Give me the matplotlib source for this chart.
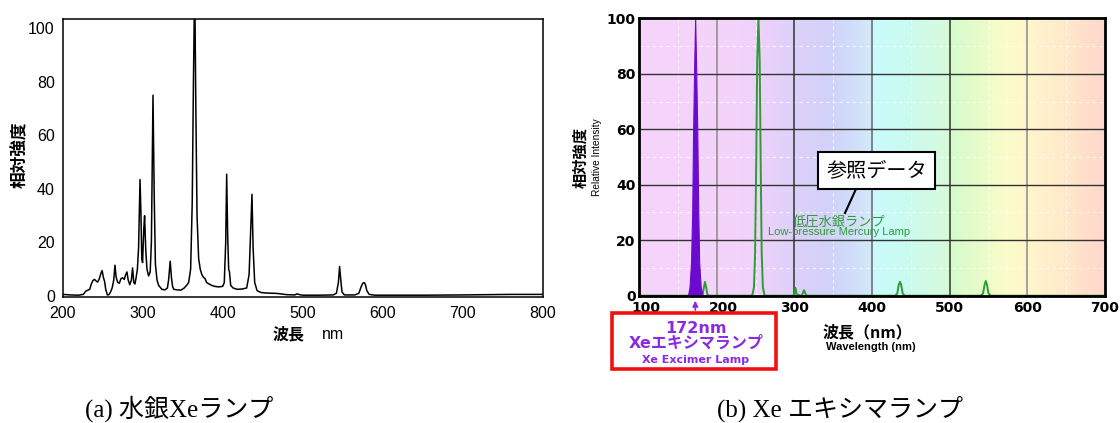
import numpy as np
import matplotlib
matplotlib.use("Agg")
import matplotlib.pyplot as plt
from matplotlib.patches import Rectangle
from matplotlib.lines import Line2D
from matplotlib.colors import to_rgb
from matplotlib.transforms import ScaledTranslation

plt.rcParams['font.family'] = ['Liberation Sans', 'Noto Sans CJK JP']

# ---------------- data: (a) mercury-Xe lamp spectrum ----------------
left_wl = [200, 210, 220, 226, 229, 232, 234, 236, 238, 240, 242, 244, 246, 248, 249.5, 251,
           252.5, 254, 256, 258, 260, 262, 264, 265.5, 267, 269, 271, 273, 275, 277, 279,
           280.5, 282, 284, 286, 287.5, 289, 290.5, 292, 293.5, 295, 296.8, 298, 299, 300,
           301.5, 302.5, 304, 305.5, 307.5, 309.5, 311, 313, 314.5, 316, 318, 320, 324, 328,
           331, 332.5, 334.5, 336, 337.5, 339, 343, 348, 352, 355, 357.5, 360, 362, 363.5,
           364.5, 365.5, 366.5, 368, 370, 372, 374, 376, 378, 380, 383, 386, 390, 395, 400,
           402, 403.8, 405, 406.3, 407.5, 408.5, 410, 413, 418, 424, 430, 433, 435, 436.6,
           438, 440, 443, 448, 455, 465, 470, 480, 490, 493, 496, 500, 520, 538, 542, 544.5,
           546, 547.5, 549, 552, 565, 570, 573, 575, 577, 578.5, 580, 583, 590, 650, 700,
           760, 800]
left_int = [0.6, 0.4, 0.3, 0.6, 1.8, 2.2, 2.5, 4.5, 5.8, 6.2, 5.6, 5.2, 6.5, 8.5, 9.5, 7,
            5.5, 2.5, 0.4, 0.5, 1.5, 3, 6, 11.5, 7, 5, 4.8, 6.5, 6.8, 6.2, 8,
            9, 6, 4.2, 6, 10.5, 5, 4.5, 7, 10, 18, 43.5, 30, 14, 12.5,
            25, 30, 17, 10, 7.5, 9, 20, 75, 38, 12, 6, 4, 2.5, 2.3,
            3, 6, 13, 7, 3.5, 2.5, 2.3, 2.2, 3, 4, 5, 10, 35, 80,
            104, 104, 70, 30, 14, 10, 8, 7, 6.5, 5, 4.5, 4, 3.6, 3.4, 3.6,
            5, 20, 45.5, 22, 10, 9, 4, 3, 2.5, 2.6, 3, 8, 25, 38,
            18, 5, 2, 1.3, 1.1, 1, 0.9, 0.5, 0.4, 0.8, 0.5, 0.3, 0.3, 0.4, 1, 5,
            11, 6, 1.5, 0.4, 0.4, 1, 3.5, 4.8, 5, 4, 2, 0.6, 0.3, 0.3, 0.4,
            0.6, 0.6]
left_xticks = [200, 300, 400, 500, 600, 700, 800]
left_yticks = [0, 20, 40, 60, 80, 100]

# ---------------- data: (b) Xe excimer lamp ----------------
xe_wl = [163, 165, 167, 168.5, 169.7, 171.2, 172.3, 173.4, 175, 176.3, 177.5, 179.5, 182]
xe_int = [0, 3, 12, 30, 60, 85, 100, 85, 60, 30, 12, 3, 0]

hg_wl = [100, 180, 182, 183.5, 185, 186.5, 188, 190, 244, 246, 248, 249.5, 251, 252.2, 253.8,
         255.4, 256.6, 258, 259.5, 261.5, 263, 298, 300, 301.5, 303, 308, 310, 312.5, 315,
         317, 430, 432.5, 434.5, 436, 437.5, 439.5, 442, 540, 543, 545, 546.5, 548, 550,
         553, 700]
hg_int = [0, 0, 0.5, 3, 5, 3, 0.5, 0, 0, 0.3, 3, 15, 50, 85, 100,
          85, 50, 15, 3, 0.3, 0, 0, 0.5, 2.8, 0.5, 0, 0.3, 2, 0.3,
          0, 0, 0.8, 4, 5, 4, 0.8, 0, 0, 0.8, 4, 5.3, 4, 0.8,
          0, 0]
right_xticks = [100, 200, 300, 400, 500, 600, 700]
right_yticks = [0, 20, 40, 60, 80, 100]

# background spectrum colour stops (style)
bg_stops = [(100, '#F6D4FB'), (230, '#F4D3FB'), (260, '#ECD2FA'), (300, '#DDD1FA'),
            (340, '#D3D1F9'), (372, '#D0DCFA'), (398, '#D4E9F9'), (402, '#C9FBFD'),
            (445, '#CBFBF0'), (490, '#D6FAE0'), (502, '#D5FBCC'), (540, '#E9FBCA'),
            (570, '#FBFCCB'), (610, '#FFF4CC'), (650, '#FFE9CB'), (700, '#FFD7CD')]

W, H = 1120, 423
fig = plt.figure(figsize=(W / 100, H / 100), dpi=100)


def fx(px):
    return px / W


def fy(py):
    return 1 - py / H


# ---------------- panel (a) ----------------
ax1 = fig.add_axes([fx(62.5), fy(296.7), (543 - 62.5) / W, (296.7 - 19) / H])
ax1.plot(left_wl, left_int, color='black', lw=1.1)
ax1.set_xlim(200, 800)
ax1.set_ylim(-0.26, 103.5)
ax1.set_xticks(left_xticks)
ax1.set_yticks(left_yticks)
ax1.tick_params(axis='both', length=0, labelsize=11.5)
ax1.tick_params(axis='y', pad=5.5)
ax1.tick_params(axis='x', pad=6.5)
for s in ax1.spines.values():
    s.set_linewidth(1.1)
    s.set_color('black')

fig.text(fx(20), fy(155), '相対強度', rotation=90, ha='center', va='center',
         fontsize=12, fontweight='bold', family=['Noto Sans CJK JP'])
fig.text(fx(289), fy(334), '波長', ha='center', va='center', fontsize=11.5,
         fontweight='bold', family=['Noto Sans CJK JP'])
fig.text(fx(333), fy(334), 'nm', ha='center', va='center', fontsize=11.5)

# ---------------- panel (b) ----------------
ax2 = fig.add_axes([fx(639), fy(295.7), (1105 - 639) / W, (295.7 - 18.3) / H])
xs = np.linspace(100, 700, 601)
stop_x = [s[0] for s in bg_stops]
stop_c = np.array([to_rgb(s[1]) for s in bg_stops])
img = np.stack([np.interp(xs, stop_x, stop_c[:, k]) for k in range(3)], axis=-1)
ax2.imshow(img[np.newaxis, :, :], extent=[100, 700, 0, 100], aspect='auto', zorder=0,
           interpolation='bilinear')

# minor dashed white grid
for xv in range(150, 700, 100):
    ax2.axvline(xv, color='white', lw=0.8, ls=(0, (3, 3)), alpha=0.7, zorder=1)
for yv in range(10, 100, 20):
    ax2.axhline(yv, color='white', lw=0.8, ls=(0, (3, 3)), alpha=0.7, zorder=1)
# major grid
vcols = {200: '#8c8c8c', 300: '#333333', 400: '#666666', 500: '#333333', 600: '#8c8c8c'}
for xv, c in vcols.items():
    ax2.axvline(xv, color=c, lw=1.1, zorder=2)
for yv in [20, 40, 60, 80]:
    ax2.axhline(yv, color='#333333', lw=1.0, zorder=2)

purple = '#6C0BD0'
ax2.fill_between(xe_wl, xe_int, 0, color=purple, lw=0.8, zorder=4)
ax2.plot(hg_wl, hg_int, color='#2E9B35', lw=1.4, zorder=3)

ax2.set_xlim(100, 700)
ax2.set_ylim(0, 100)
ax2.set_xticks(right_xticks)
ax2.set_yticks(right_yticks)
ax2.tick_params(axis='both', length=0, labelsize=10)
ax2.tick_params(axis='y', pad=2.5)
ax2.tick_params(axis='x', pad=4)
for lab in ax2.get_xticklabels() + ax2.get_yticklabels():
    lab.set_fontfamily('DejaVu Sans')
    lab.set_fontweight('bold')
off = ScaledTranslation(7 / 100, 0, fig.dpi_scale_trans)
for lab in ax2.get_xticklabels()[:2]:
    lab.set_transform(lab.get_transform() + off)
for s in ax2.spines.values():
    s.set_linewidth(2)
    s.set_color('black')
    s.set_zorder(5)

# green label
green_txt = '#2E9B35'
ax2.text(358, 26.6, '低圧水銀ランプ', color=green_txt, ha='center', va='center',
         fontsize=9.5, family=['Noto Sans CJK JP'], zorder=6)
ax2.text(358, 23.0, 'Low-pressure Mercury Lamp', color=green_txt, ha='center',
         va='center', fontsize=8, zorder=6)

# reference-data callout
fig.add_artist(Line2D([fx(856), fx(845)], [fy(189), fy(213)], color='black', lw=1.5,
                      transform=fig.transFigure))
fig.add_artist(Rectangle((fx(818), fy(189)), (935 - 818) / W, (189 - 152) / H,
                         transform=fig.transFigure, facecolor='white',
                         edgecolor='black', lw=1.5, zorder=6))
fig.text(fx(876.5), fy(171), '参照データ', ha='center', va='center', fontsize=14.5,
         family=['Noto Sans CJK JP'], zorder=7)

# axis labels
fig.text(fx(580), fy(157), '相対強度', rotation=90, ha='center', va='center',
         fontsize=11, fontweight='bold', family=['Noto Sans CJK JP'])
fig.text(fx(597), fy(157), 'Relative Intensity', rotation=90, ha='center', va='center',
         fontsize=7.3)
fig.text(fx(867), fy(332), '波長（nm）', ha='center', va='center', fontsize=11.5,
         fontweight='bold', family=['Noto Sans CJK JP'])
fig.text(fx(871), fy(347), 'Wavelength (nm)', ha='center', va='center', fontsize=8,
         fontweight='bold')

# 172 nm box + arrow
ptxt = '#8A2BE2'
ax2.annotate('', xy=(172.5, -0.8), xytext=(172.5, -6.2),
             arrowprops=dict(arrowstyle='-|>', color=ptxt, lw=1.2, mutation_scale=8),
             annotation_clip=False)
fig.add_artist(Rectangle((fx(612), fy(369)), (776 - 612) / W, (369 - 313) / H,
                         transform=fig.transFigure, facecolor='white',
                         edgecolor='#F01010', lw=2.6))
fig.text(fx(696), fy(328), '172nm', ha='center', va='center', fontsize=11.5,
         fontweight='bold', color=ptxt, family=['DejaVu Sans'])
fig.text(fx(696), fy(343), 'Xeエキシマランプ', ha='center', va='center', fontsize=11.5,
         fontweight='bold', color=ptxt, family=['DejaVu Sans', 'Noto Sans CJK JP'])
fig.text(fx(696), fy(360), 'Xe Excimer Lamp', ha='center', va='center', fontsize=8,
         fontweight='bold', color=ptxt, family=['DejaVu Sans'])

# captions
fig.text(fx(85), fy(409), '(a) 水銀Xeランプ', ha='left', va='center', fontsize=18,
         family=['Liberation Serif', 'Noto Sans CJK JP'])
fig.text(fx(717), fy(409), '(b) Xe エキシマランプ', ha='left', va='center', fontsize=18,
         family=['Liberation Serif', 'Noto Sans CJK JP'])

fig.savefig('out.png', dpi=100)
